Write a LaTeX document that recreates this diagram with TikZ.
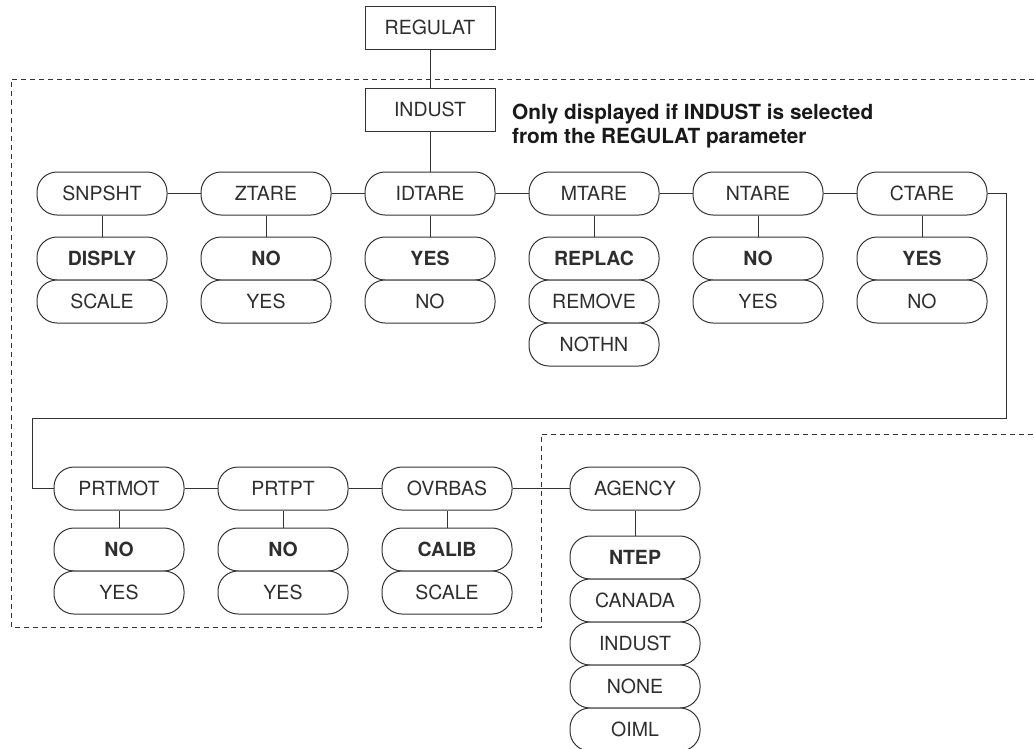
\documentclass[tikz,border=0pt]{standalone}
\usepackage{fontspec}
\setmainfont{TeX Gyre Heros}
\begin{document}
\begin{tikzpicture}[x=1pt,y=-1pt]
\definecolor{lc}{HTML}{333333}
\definecolor{tc}{HTML}{2E2E2E}
\newcommand{\lblfont}{\fontsize{19.5}{22}\selectfont}
\newcommand{\lblbfont}{\fontsize{19.5}{22}\selectfont\bfseries}
\tikzset{
  sqbox/.style={draw=lc, line width=1pt, minimum width=130pt, minimum height=43pt, inner sep=0pt, font=\lblfont, text=tc, fill=white},
  pill/.style={sqbox, rounded corners=20pt},
  bpill/.style={pill, font=\lblbfont},
  conn/.style={draw=lc, line width=1pt},
  dashline/.style={draw=lc, line width=0.9pt, dash pattern=on 5pt off 4pt},
}
\useasboundingbox (0,0) rectangle (1034,748);
% dashed region
\draw[dashline] (1034,79) -- (11,79) -- (11,627) -- (541,627) -- (541,434) -- (1034,434);

% top boxes
\node[sqbox] (regulat) at (430,27.5) {REGULAT};
\node[sqbox] (indust) at (430,109.5) {INDUST};
\node[anchor=north west, inner sep=0pt, align=left, text=black!90,
      font={\fontsize{20.8}{24}\selectfont\bfseries}] (note) at (512,103.5)
      {Only displayed if INDUST is selected\\from the REGULAT parameter};

% row 1
\node[pill] (snpsht) at (102,193.5) {SNPSHT};
\node[pill] (ztare)  at (266,193.5) {ZTARE};
\node[pill] (idtare) at (430,193.5) {IDTARE};
\node[pill] (mtare)  at (594,193.5) {MTARE};
\node[pill] (ntare)  at (758,193.5) {NTARE};
\node[pill] (ctare)  at (922,193.5) {CTARE};

\node[bpill] (snpsht1) at (102,258.5) {DISPLY};
\node[pill]  (snpsht2) at (102,301.5) {SCALE};
\node[bpill] (ztare1) at (266,258.5) {NO};
\node[pill]  (ztare2) at (266,301.5) {YES};
\node[bpill] (idtare1) at (430,258.5) {YES};
\node[pill]  (idtare2) at (430,301.5) {NO};
\node[bpill] (mtare1) at (594,258.5) {REPLAC};
\node[pill]  (mtare2) at (594,301.5) {REMOVE};
\node[pill]  (mtare3) at (594,344.5) {NOTHN};
\node[bpill] (ntare1) at (758,258.5) {NO};
\node[pill]  (ntare2) at (758,301.5) {YES};
\node[bpill] (ctare1) at (922,258.5) {YES};
\node[pill]  (ctare2) at (922,301.5) {NO};

% row 2
\node[pill] (prtmot) at (119,488.5) {PRTMOT};
\node[pill] (prtpt)  at (283,488.5) {PRTPT};
\node[pill] (ovrbas) at (447,488.5) {OVRBAS};
\node[pill] (agency) at (635,488.5) {AGENCY};

\node[bpill] (prtmot1) at (119,549.5) {NO};
\node[pill]  (prtmot2) at (119,592.5) {YES};
\node[bpill] (prtpt1) at (283,549.5) {NO};
\node[pill]  (prtpt2) at (283,592.5) {YES};
\node[bpill] (ovrbas1) at (447,549.5) {CALIB};
\node[pill]  (ovrbas2) at (447,592.5) {SCALE};
\node[bpill] (agency1) at (635,557.5) {NTEP};
\node[pill]  (agency2) at (635,600.5) {CANADA};
\node[pill]  (agency3) at (635,643.5) {INDUST};
\node[pill]  (agency4) at (635,686.5) {NONE};
\node[pill]  (agency5) at (635,729.5) {OIML};

% connectors
\draw[conn] (regulat) -- (indust);
\draw[conn] (indust) -- (idtare);
\draw[conn] (snpsht) -- (ztare);
\draw[conn] (ztare) -- (idtare);
\draw[conn] (idtare) -- (mtare);
\draw[conn] (mtare) -- (ntare);
\draw[conn] (ntare) -- (ctare);
\foreach \n in {snpsht,ztare,idtare,mtare,ntare,ctare,prtmot,prtpt,ovrbas,agency}
  \draw[conn] (\n.south) -- (\n1.north);
\coordinate (turnA) at (1006,418);
\coordinate (turnB) at (32,418);
\draw[conn] (ctare.east) -| (turnA) -- (turnB) |- (prtmot.west);
\draw[conn] (prtmot) -- (prtpt);
\draw[conn] (prtpt) -- (ovrbas);
\draw[conn] (ovrbas) -- (agency);
\end{tikzpicture}
\end{document}
